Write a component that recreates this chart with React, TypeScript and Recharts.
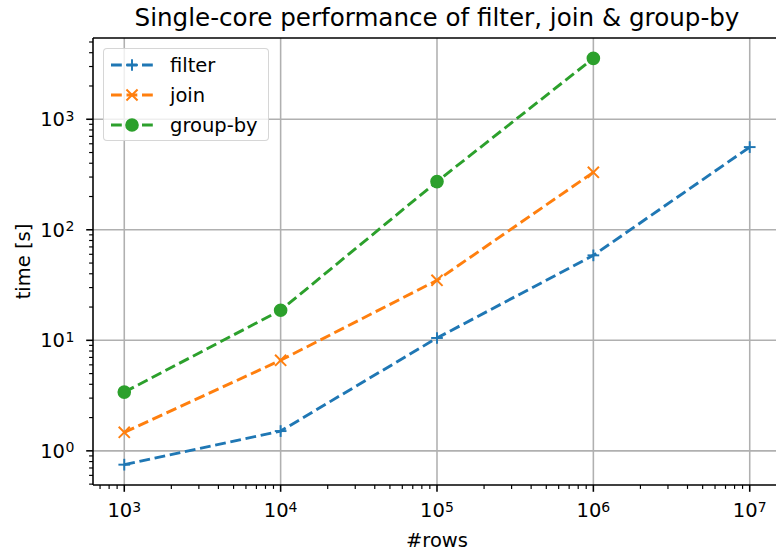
import React from "react";
import { LineChart, Line, XAxis, YAxis, CartesianGrid, Legend, Label, ReferenceLine } from "recharts";

const FONT = "'DejaVu Sans', sans-serif";

const rows = [1e3, 1e4, 1e5, 1e6, 1e7];
const filterTimes = [0.75, 1.51, 10.5, 58.7, 560];
const joinTimes = [1.47, 6.6, 34.9, 331];
const groupByTimes = [3.4, 18.7, 273, 3560];

const xMajor = [1e3, 1e4, 1e5, 1e6, 1e7];
const yMajor = [1, 10, 100, 1000];
const xDomain = [631, 15850000];
const yDomain = [0.491, 5434];

const series = [
  { key: "filter", name: "filter", color: "#1f77b4", marker: "plus" },
  { key: "join", name: "join", color: "#ff7f0e", marker: "cross" },
  { key: "groupBy", name: "group-by", color: "#2ca02c", marker: "circle" },
];

const data = rows.map((r, i) => ({
  rows: r,
  filter: filterTimes[i] ?? null,
  join: joinTimes[i] ?? null,
  groupBy: groupByTimes[i] ?? null,
}));

// 2..9 x 10^k inside the domain (log minor ticks)
function minorTicks(lo: number, hi: number) {
  const out: number[] = [];
  for (let e = Math.floor(Math.log10(lo)); e <= Math.ceil(Math.log10(hi)); e++) {
    for (let m = 2; m <= 9; m++) {
      const v = m * Math.pow(10, e);
      if (v >= lo && v <= hi) out.push(v);
    }
  }
  return out;
}

const xTicks = [...xMajor, ...minorTicks(xDomain[0], xDomain[1])].sort((a, b) => a - b);
const yTicks = [...yMajor, ...minorTicks(yDomain[0], yDomain[1])].sort((a, b) => a - b);

function Marker({ kind, cx, cy, color }: { kind: string; cx: number; cy: number; color: string }) {
  const r = 5.85;
  if (kind === "plus") {
    return (
      <g stroke={color} strokeWidth={1.95}>
        <line x1={cx - r} x2={cx + r} y1={cy} y2={cy} />
        <line x1={cx} x2={cx} y1={cy - r} y2={cy + r} />
      </g>
    );
  }
  if (kind === "cross") {
    const d = r * 0.95;
    return (
      <g stroke={color} strokeWidth={1.95}>
        <line x1={cx - d} x2={cx + d} y1={cy - d} y2={cy + d} />
        <line x1={cx - d} x2={cx + d} y1={cy + d} y2={cy - d} />
      </g>
    );
  }
  return <circle cx={cx} cy={cy} r={r} fill={color} stroke={color} strokeWidth={1.95} />;
}

function XTick(props: any) {
  const { x, y, payload } = props;
  const major = xMajor.includes(payload.value);
  return (
    <g>
      <line x1={x} x2={x} y1={y} y2={y + (major ? 6.8 : 3.9)} stroke="#000" strokeWidth={major ? 1.56 : 1.17} />
      {major && (
        <text x={x} y={y + 32} textAnchor="middle" fontSize={19.5} fontFamily={FONT} fill="#000">
          10<tspan dy={-5.5} fontSize={14}>{Math.round(Math.log10(payload.value))}</tspan>
        </text>
      )}
    </g>
  );
}

function YTick(props: any) {
  const { x, y, payload } = props;
  const major = yMajor.includes(payload.value);
  return (
    <g>
      <line x1={x} x2={x - (major ? 6.8 : 3.9)} y1={y} y2={y} stroke="#000" strokeWidth={major ? 1.56 : 1.17} />
      {major && (
        <text x={x - 28} y={y + 7} textAnchor="end" fontSize={19.5} fontFamily={FONT} fill="#000">
          10
        </text>
      )}
      {major && (
        <text x={x - 27.5} y={y + 1.5} textAnchor="start" fontSize={14} fontFamily={FONT} fill="#000">
          {Math.round(Math.log10(payload.value))}
        </text>
      )}
    </g>
  );
}

// keep the plotting order in the legend (recharts sorts by name otherwise)
function LegendBox() {
  return (
    <div
      style={{
        width: 164,
        height: 90,
        border: "1.56px solid rgba(204,204,204,0.8)",
        borderRadius: 4,
        background: "rgba(255,255,255,0.8)",
        paddingTop: 1,
        boxSizing: "content-box",
        fontFamily: FONT,
        fontSize: 19.5,
      }}
    >
      {series.map((s) => (
        <div key={s.key} style={{ display: "flex", alignItems: "center", height: 30 }}>
          <svg width={42} height={20} style={{ marginLeft: 7, marginRight: 17 }}>
            <line x1={0} x2={42} y1={10} y2={10} stroke={s.color} strokeWidth={2.9} strokeDasharray="10.8 4.7" />
            <Marker kind={s.marker} cx={21} cy={10} color={s.color} />
          </svg>
          <span style={{ color: "#000" }}>{s.name}</span>
        </div>
      ))}
    </div>
  );
}

export default function App() {
  return (
    <div style={{ position: "absolute", left: 0, top: 0, width: 776, height: 553, overflow: "hidden", background: "#fff" }}>
      <div
        style={{
          position: "absolute",
          left: 93,
          top: 6,
          width: 688,
          textAlign: "center",
          fontFamily: FONT,
          fontSize: 24.6,
          lineHeight: "24px",
          color: "#000",
        }}
      >
        Single-core performance of filter, join &amp; group-by
      </div>
      <LineChart width={781} height={553} data={data} margin={{ top: 38, right: 0, bottom: 0, left: 0 }}>
        <CartesianGrid
          stroke="#b0b0b0"
          strokeWidth={1.56}
          horizontalValues={yMajor}
          verticalValues={xMajor}
        />
        <XAxis
          dataKey="rows"
          type="number"
          scale="log"
          domain={xDomain}
          allowDataOverflow
          ticks={xTicks}
          interval={0}
          tick={<XTick />}
          tickLine={false}
          tickSize={0}
          tickMargin={0}
          height={68}
          axisLine={{ stroke: "#000", strokeWidth: 1.56 }}
        >
          <Label
            content={({ viewBox }: any) => (
              <text x={viewBox.x + viewBox.width / 2} y={viewBox.y + 62} textAnchor="middle" fontSize={19.5} fontFamily={FONT} fill="#000">
                #rows
              </text>
            )}
          />
        </XAxis>
        <YAxis
          type="number"
          scale="log"
          domain={yDomain}
          allowDataOverflow
          ticks={yTicks}
          interval={0}
          tick={<YTick />}
          tickLine={false}
          tickSize={0}
          tickMargin={0}
          width={93}
          axisLine={{ stroke: "#000", strokeWidth: 1.56 }}
        >
          <Label
            content={({ viewBox }: any) => {
              const cx = 29.5;
              const cy = viewBox.y + viewBox.height / 2;
              return (
                <text x={cx} y={cy} transform={`rotate(-90, ${cx}, ${cy})`} textAnchor="middle" fontSize={19.5} fontFamily={FONT} fill="#000">
                  time [s]
                </text>
              );
            }}
          />
        </YAxis>
        {/* top spine */}
        <ReferenceLine y={yDomain[1]} stroke="#000" strokeWidth={1.56} ifOverflow="visible" />
        <Legend
          layout="vertical"
          align="center"
          verticalAlign="middle"
          wrapperStyle={{ left: 103, top: 48, width: "auto", height: "auto" }}
          content={<LegendBox />}
        />
        {series.map((s) => (
          <Line
            key={s.key}
            dataKey={s.key}
            name={s.name}
            stroke={s.color}
            strokeWidth={2.9}
            strokeDasharray="10.8 4.7"
            isAnimationActive={false}
            activeDot={false}
            dot={(p: any) =>
              p.cy == null || p.value == null ? (
                <g key={`${s.key}-${p.index}`} />
              ) : (
                <g key={`${s.key}-${p.index}`}>
                  <Marker kind={s.marker} cx={p.cx} cy={p.cy} color={s.color} />
                </g>
              )
            }
          />
        ))}
      </LineChart>
    </div>
  );
}
